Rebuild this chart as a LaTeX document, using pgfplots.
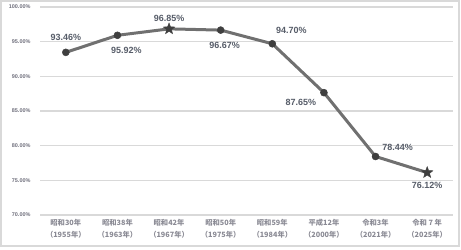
\documentclass[border=0pt]{standalone}
\usepackage{pgfplots}
\pgfplotsset{compat=1.18}
\usepackage{fontspec}
\setmainfont{Liberation Sans}
\newfontfamily\cjk{Noto Sans CJK JP}
\definecolor{linec}{HTML}{707070}
\definecolor{markc}{HTML}{3F3F3F}
\definecolor{labc}{HTML}{565C68}
\definecolor{tickc}{HTML}{6F6F7C}
\definecolor{xtickc}{HTML}{8A8A94}
\definecolor{gridc}{HTML}{D9D9D9}
\pgfdeclareplotmark{fstar}{%
  \pgfpathmoveto{\pgfpointpolar{90}{\pgfplotmarksize}}%
  \pgfpathlineto{\pgfpointpolar{126}{0.42\pgfplotmarksize}}%
  \pgfpathlineto{\pgfpointpolar{162}{\pgfplotmarksize}}%
  \pgfpathlineto{\pgfpointpolar{198}{0.42\pgfplotmarksize}}%
  \pgfpathlineto{\pgfpointpolar{234}{\pgfplotmarksize}}%
  \pgfpathlineto{\pgfpointpolar{270}{0.42\pgfplotmarksize}}%
  \pgfpathlineto{\pgfpointpolar{306}{\pgfplotmarksize}}%
  \pgfpathlineto{\pgfpointpolar{342}{0.42\pgfplotmarksize}}%
  \pgfpathlineto{\pgfpointpolar{18}{\pgfplotmarksize}}%
  \pgfpathlineto{\pgfpointpolar{54}{0.42\pgfplotmarksize}}%
  \pgfpathclose
  \pgfusepathqfillstroke}
\begin{document}
\begin{tikzpicture}[x=1bp,y=1bp]
\useasboundingbox (0,0) rectangle (461,249);
\draw[gridc, line width=1.2bp] (1,3) rectangle (459,248);
\begin{axis}[
  at={(40bp,34bp)}, anchor=south west,
  scale only axis, width=413bp, height=208bp,
  xmin=-0.5, xmax=7.5, ymin=70, ymax=100,
  axis line style={draw=none},
  major tick length=0pt,
  /pgf/number format/assume math mode=true,
  ytick={70,75,...,100},
  yticklabel={\pgfmathprintnumber[fixed,fixed zerofill,precision=2]{\tick}\%},
  yticklabel style={font=\fontsize{5.5}{6}\selectfont\bfseries, text=tickc, xshift=-6bp},
  ymajorgrids, grid style={gridc, line width=1.2bp},
  xtick={0,...,7},
  xticklabels={昭和30年\\（1955年）,昭和38年\\（1963年）,昭和42年\\（1967年）,昭和50年\\（1975年）,昭和59年\\（1984年）,平成12年\\（2000年）,令和3年\\（2021年）,令和 7 年\\（2025年）},
  xticklabel style={font=\cjk\bfseries\fontsize{7.3}{12}\selectfont, text=xtickc, align=center, yshift=-1bp},
  clip=false,
]
\addplot[linec, line width=3bp, mark=*, mark indices={1,2,4,5,6,7},
  mark options={fill=markc, draw=markc, line width=0.5bp}, mark size=3.5bp]
  coordinates {(0,93.46) (1,95.92) (2,96.85) (3,96.67) (4,94.70) (5,87.65) (6,78.44) (7,76.12)};
\addplot[only marks, mark=fstar, mark indices={3,8}, mark size=6bp,
  mark options={fill=markc, draw=markc, line width=0.4bp}]
  coordinates {(0,93.46) (1,95.92) (2,96.85) (3,96.67) (4,94.70) (5,87.65) (6,78.44) (7,76.12)};
\begin{scope}[every node/.style={font=\fontsize{9}{10}\selectfont\bfseries, text=labc, inner sep=0pt}]
\draw[gray!60, line width=0.4bp] (axis cs:0,93.46) ++(0,4) -- ++(0,5);
\node at ([yshift=15bp]axis cs:0,93.46) {93.46\%};
\draw[gray!60, line width=0.4bp] (axis cs:1,95.92) ++(3,-3) -- ++(4,-4);
\node at ([xshift=9bp,yshift=-15bp]axis cs:1,95.92) {95.92\%};
\node at ([yshift=10bp]axis cs:2,96.85) {96.85\%};
\draw[gray!60, line width=0.4bp] (axis cs:3,96.67) ++(0,-4) -- ++(0,-4);
\node at ([xshift=4bp,yshift=-15bp]axis cs:3,96.67) {96.67\%};
\draw[gray!60, line width=0.4bp] (axis cs:4,94.70) ++(3,1) -- ++(12,6);
\node at ([xshift=19bp,yshift=13bp]axis cs:4,94.70) {94.70\%};
\draw[gray!60, line width=0.4bp] (axis cs:5,87.65) ++(-2,-4) -- ++(0,-5) -- ++(-3,0);
\node at ([xshift=-23bp,yshift=-10bp]axis cs:5,87.65) {87.65\%};
\draw[gray!60, line width=0.4bp] (axis cs:6,78.44) ++(1,4) -- ++(0,5) -- ++(2,0);
\node at ([xshift=22bp,yshift=9bp]axis cs:6,78.44) {78.44\%};
\node at ([yshift=-13bp]axis cs:7,76.12) {76.12\%};
\end{scope}
\end{axis}
\end{tikzpicture}
\end{document}
